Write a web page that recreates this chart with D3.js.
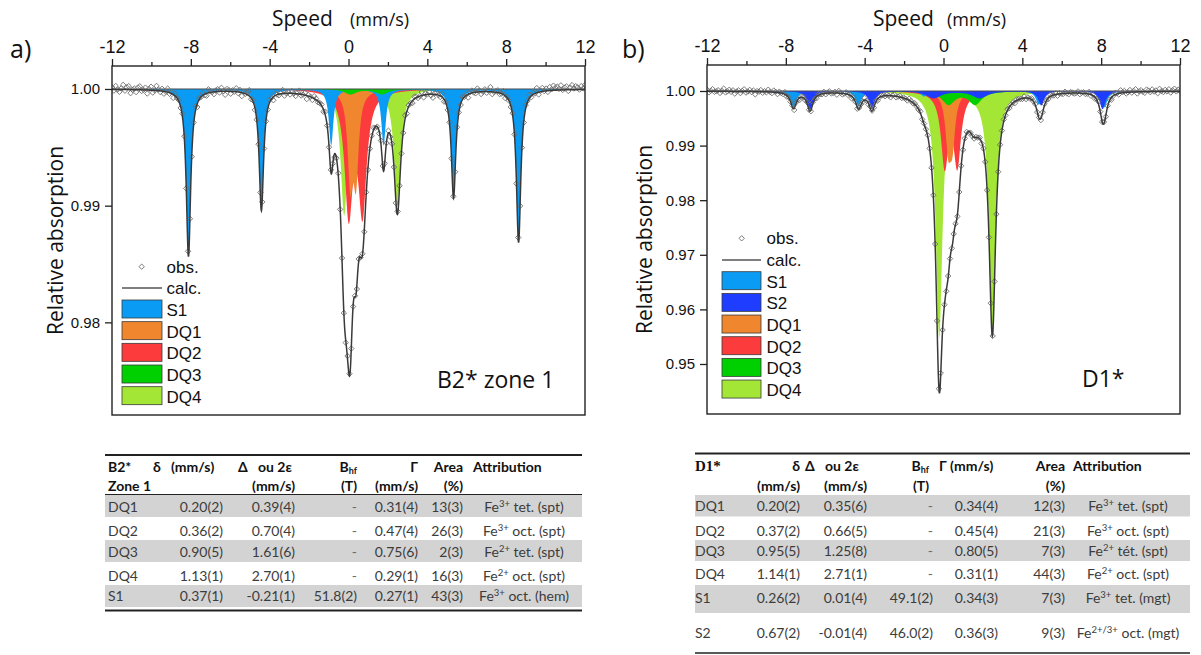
<!DOCTYPE html>
<html>
<head>
<meta charset="utf-8">
<script src="https://cdn.jsdelivr.net/npm/d3@7/dist/d3.min.js"></script>
<style>
html,body{margin:0;padding:0;background:#fff;}
svg{display:block;}
text{white-space:pre;}
</style>
</head>
<body>
<svg id="chart" width="1201" height="655"></svg>
<script>
// ================= DATA =================
const VELOCITY_DOMAIN = [-12, 12];
const X_TICKS_MAJOR = [-12, -8, -4, 0, 4, 8, 12];
const X_TICKS_MINOR = [-10, -6, -2, 2, 6, 10];
const Y_TICKS_A = [0.98, 0.99, 1.00];
const Y_TICKS_B = [0.95, 0.96, 0.97, 0.98, 0.99, 1.00];
const Y_DOMAIN_A = [0.97206, 1.00197];
const Y_DOMAIN_B = [0.94084, 1.00476];

// Panel a) B2* zone 1 : line centres (mm/s), depths (1 - transmission), FWHM (mm/s)
const A_S1_POS   = [-8.12, -4.42, -0.88, 1.78, 5.33, 8.63];
const A_S1_DEPTH = [0.0143, 0.0103, 0.0048, 0.0048, 0.0092, 0.0131];
const A_S1_FWHM  = [0.27, 0.27, 0.27, 0.27, 0.27, 0.27];
const A_DQ1_POS = [0.09, 0.38],  A_DQ1_DEPTH = [0.0075, 0.0072],   A_DQ1_FWHM = [0.32, 0.32];
const A_DQ2_POS = [0.01, 0.71],  A_DQ2_DEPTH = [0.0104, 0.0102],   A_DQ2_FWHM = [0.50, 0.50];
const A_DQ3_POS = [0.095, 1.705],A_DQ3_DEPTH = [0.00045, 0.00045], A_DQ3_FWHM = [0.75, 0.75];
const A_DQ4_POS = [-0.22, 2.48], A_DQ4_DEPTH = [0.0108, 0.0100],   A_DQ4_FWHM = [0.42, 0.40];

// Panel b) D1*
const B_S1_POS   = [-7.61, -4.31, -0.99, 1.51, 4.84, 8.16];
const B_S1_DEPTH = [0.0030, 0.0028, 0.0010, 0.0010, 0.0025, 0.0030];
const B_S1_FWHM  = [0.36, 0.36, 0.36, 0.36, 0.36, 0.36];
const B_S2_POS   = [-6.77, -3.63, -0.50, 1.84, 4.96, 8.07];
const B_S2_DEPTH = [0.0034, 0.0031, 0.0013, 0.0013, 0.0026, 0.0033];
const B_S2_FWHM  = [0.36, 0.36, 0.90, 0.90, 0.36, 0.36];
const B_DQ1_POS = [0.24, 0.45],  B_DQ1_DEPTH = [0.0094, 0.0086], B_DQ1_FWHM = [0.34, 0.34];
const B_DQ2_POS = [0.06, 0.70],  B_DQ2_DEPTH = [0.0133, 0.0131], B_DQ2_FWHM = [0.45, 0.45];
const B_DQ3_POS = [0.25, 1.61],  B_DQ3_DEPTH = [0.0024, 0.0024], B_DQ3_FWHM = [0.80, 0.80];
const B_DQ4_POS = [-0.22, 2.48], B_DQ4_DEPTH = [0.0450, 0.0432], B_DQ4_FWHM = [0.40, 0.40];

// residuals of the observed points from the fit (units of 1e-4), one per channel
const A_RESID = [
 2,-1,3,0,-2,1,4,-1,2,3,-3,0,1,-2,2,3,
 -1,0,2,-3,1,3,-2,0,4,1,-1,2,-2,0,3,-1,
 1,-3,2,0,1,-1,3,2,-2,1,0,-1,2,4,-3,1,
 0,2,-1,-2,3,1,0,-2,1,2,-1,3,0,-3,2,1,
 -2,1,0,3,-1,2,-3,1,0,2,5,-1,1,-2,0,2,
 3,-2,1,0,-1,2,1,-3,2,0,-1,1,3,-2,0,1,
 -1,2,0,-2,1,3,-1,0,2,-3,1,0,-2,2,1,-1,
 0,1,-2,3,0,-1,2,1,-3,0,2,-1,1,0,-2,3,
 2,0,-1,1,-3,2,0,1,-1,3,-2,0,1,2,-1,0,
 -2,3,1,0,-1,2,-2,1,0,-3,2,1,0,-1,3,-2,
 1,0,-2,2,1,-1,0,3,-2,1,0,2,-1,-3,1,2,
 0,-1,3,-2,1,0,2,-1,1,-2,3,0,-1,2,0,1,
 -3,1,2,0,-1,3,1,-2,0,2,-1,1,4,-2,0,1,
 2,-1,0,3,-2,1,0,-1,2,1,-3,2,0,1,-1,3,
 1,3,-1,2,0,4,-2,1,3,0,2,-1,3,1,4,2,
 3,1,4,0,2,3,-1,2,4,1,3,2,0,3,1,4];
const B_RESID = [
 3,-2,1,4,-1,0,2,-3,1,5,-2,0,3,-1,2,-4,
 0,2,-3,1,4,-2,0,3,-1,2,-5,1,0,3,-2,1,
 -1,4,0,-2,3,1,-3,2,0,-1,4,-2,1,0,3,-3,
 2,0,-4,1,2,-1,3,0,-2,4,1,-3,2,0,-1,3,
 -2,1,3,-1,0,2,-3,4,1,-2,0,3,-1,2,-4,1,
 0,-3,2,1,-1,4,0,-2,3,1,-1,2,-3,0,2,1,
 -1,2,0,-3,1,3,-2,0,2,-1,1,0,-2,3,1,-1,
 2,0,-1,3,-2,1,0,2,-1,-3,1,2,0,-2,3,0,
 1,-2,3,0,-1,2,1,-3,0,2,-1,1,3,-2,0,-1,
 -2,1,0,2,-3,1,2,-1,0,3,-2,0,1,-1,2,0,
 3,-1,2,-2,0,1,-3,2,1,0,-1,3,-2,1,0,2,
 0,2,-1,1,-3,0,2,1,-2,3,0,-1,2,-3,1,0,
 -1,3,0,-2,2,1,-1,0,3,-2,1,2,-1,0,4,-2,
 2,-3,1,4,0,-1,3,-2,1,2,-4,0,3,1,-2,5,
 1,3,-2,0,4,-1,2,5,-3,1,3,0,-2,4,2,-1,
 4,0,2,-3,5,1,-1,3,0,4,-2,2,5,0,3,1];

const LEGEND_A = ["S1", "DQ1", "DQ2", "DQ3", "DQ4"];
const LEGEND_B = ["S1", "S2", "DQ1", "DQ2", "DQ3", "DQ4"];
const DRAW_ORDER_A = ["DQ4", "DQ2", "DQ1", "S1", "DQ3"];
const DRAW_ORDER_B = ["DQ4", "DQ2", "DQ1", "DQ3", "S1", "S2"];

// tables ({..} superscript, [..] subscript)
const TABLE_A_HEADER = [["B2*", "Zone 1"], ["δ   (mm/s)", ""], ["Δ   ou 2ε", "(mm/s)"], ["B[hf]", "(T)"], ["Γ", "(mm/s)"], ["Area", "(%)"], ["Attribution", ""]];
const TABLE_A_ROWS = [
  ["DQ1", "0.20(2)", "0.39(4)", "-", "0.31(4)", "13(3)", "Fe{3+} tet. (spt)"],
  ["DQ2", "0.36(2)", "0.70(4)", "-", "0.47(4)", "26(3)", "Fe{3+} oct. (spt)"],
  ["DQ3", "0.90(5)", "1.61(6)", "-", "0.75(6)", "2(3)", "Fe{2+} tet. (spt)"],
  ["DQ4", "1.13(1)", "2.70(1)", "-", "0.29(1)", "16(3)", "Fe{2+} oct. (spt)"],
  ["S1", "0.37(1)", "-0.21(1)", "51.8(2)", "0.27(1)", "43(3)", "Fe{3+} oct. (hem)"]];
const TABLE_B_HEADER = [["D1*", ""], ["δ", "(mm/s)"], ["Δ   ou 2ε", "(mm/s)"], ["B[hf]", "(T)"], ["Γ (mm/s)", ""], ["Area", "(%)"], ["Attribution", ""]];
const TABLE_B_ROWS = [
  ["DQ1", "0.20(2)", "0.35(6)", "-", "0.34(4)", "12(3)", "Fe{3+} tet. (spt)"],
  ["DQ2", "0.37(2)", "0.66(5)", "-", "0.45(4)", "21(3)", "Fe{3+} oct. (spt)"],
  ["DQ3", "0.95(5)", "1.25(8)", "-", "0.80(5)", "7(3)", "Fe{2+} tét. (spt)"],
  ["DQ4", "1.14(1)", "2.71(1)", "-", "0.31(1)", "44(3)", "Fe{2+} oct. (spt)"],
  ["S1", "0.26(2)", "0.01(4)", "49.1(2)", "0.34(3)", "7(3)", "Fe{3+} tet. (mgt)"],
  ["S2", "0.67(2)", "-0.01(4)", "46.0(2)", "0.36(3)", "9(3)", "Fe{2+/3+} oct. (mgt)"]];

// ================= STYLE / LAYOUT =================
const COLORS = {S1: "#0a9cf5", S2: "#1f3dff", DQ1: "#f0862e", DQ2: "#fc3c3c", DQ3: "#00cf00", DQ4: "#a3e636"};
const svg = d3.select("#chart");
const defs = svg.append("defs");
const DIAMOND = "M0,-2.7L2.7,0L0,2.7L-2.7,0Z";

function comp(pos, depth, fwhm) { return {pos, depth, fwhm}; }
function absorb(v, c) {
  let s = 0;
  for (let i = 0; i < c.pos.length; i++) {
    const g = c.fwhm[i] / 2, d = v - c.pos[i];
    s += c.depth[i] * g * g / (d * d + g * g);
  }
  return s;
}

function richText(sel, str, size) {
  const parts = str.split(/(\{[^}]*\}|\[[^\]]*\])/).filter(s => s.length);
  let shift = 0;
  parts.forEach(p => {
    if (p[0] === "{") { sel.append("tspan").attr("dy", -5 - shift).attr("font-size", size * 0.68).text(p.slice(1, -1)); shift = -5; }
    else if (p[0] === "[") { sel.append("tspan").attr("dy", 2 - shift).attr("font-size", size * 0.64).text(p.slice(1, -1)); shift = 2; }
    else { sel.append("tspan").attr("dy", -shift).text(p); shift = 0; }
  });
}

function drawPanel(p) {
  const x = d3.scaleLinear().domain(VELOCITY_DOMAIN).range([p.box.x0, p.box.x1]);
  const y = d3.scaleLinear().domain(p.yDomain).range([p.box.y1, p.box.y0]);
  const names = Object.keys(p.comps);
  const total = v => 1 - d3.sum(names, n => absorb(v, p.comps[n]));
  const fine = d3.range(2401).map(i => VELOCITY_DOMAIN[0] + i * (VELOCITY_DOMAIN[1] - VELOCITY_DOMAIN[0]) / 2400);
  const nCh = p.resid.length;
  const chan = d3.range(nCh).map(i => VELOCITY_DOMAIN[0] + i * (VELOCITY_DOMAIN[1] - VELOCITY_DOMAIN[0]) / (nCh - 1));

  defs.append("clipPath").attr("id", "clip" + p.id).append("rect")
    .attr("x", p.box.x0).attr("y", p.box.y0).attr("width", p.box.x1 - p.box.x0).attr("height", p.box.y1 - p.box.y0);
  const g = svg.append("g");
  const plot = g.append("g").attr("clip-path", `url(#clip${p.id})`);

  p.order.forEach(n => {
    const c = p.comps[n];
    plot.append("path").datum(fine).attr("fill", COLORS[n])
      .attr("d", d3.area().x(v => x(v)).y0(y(1)).y1(v => y(1 - absorb(v, c))));
  });
  plot.append("line").attr("x1", p.box.x0).attr("x2", p.box.x1).attr("y1", y(1)).attr("y2", y(1))
    .attr("stroke", "#4a4a4a").attr("stroke-width", 1.1);
  plot.selectAll("path.obs").data(chan).join("path").attr("class", "obs")
    .attr("transform", (v, i) => `translate(${x(v)},${y(total(v) + p.resid[i] * 1e-4)})`)
    .attr("d", DIAMOND).attr("fill", "none").attr("stroke", "#6e6e6e").attr("stroke-width", 0.9);
  plot.append("path").datum(fine).attr("fill", "none").attr("stroke", "#3a3a3a").attr("stroke-width", 1.5)
    .attr("d", d3.line().x(v => x(v)).y(v => y(total(v))));

  // axes
  const ax = g.append("g").attr("transform", `translate(0,${p.box.y0})`)
    .call(d3.axisTop(x).tickValues(X_TICKS_MAJOR).tickSize(7).tickPadding(6).tickFormat(d => String(d)));
  ax.select(".domain").remove();
  ax.selectAll("text").attr("font-family", "'Liberation Sans', Arial, sans-serif").attr("font-size", 18).attr("fill", "#111");
  ax.selectAll("line").attr("stroke", "#222").attr("stroke-width", 1.3);
  const axm = g.append("g").attr("transform", `translate(0,${p.box.y0})`)
    .call(d3.axisTop(x).tickValues(X_TICKS_MINOR).tickSize(4).tickFormat(""));
  axm.select(".domain").remove();
  axm.selectAll("line").attr("stroke", "#222").attr("stroke-width", 1.3);
  const ay = g.append("g").attr("transform", `translate(${p.box.x0},0)`)
    .call(d3.axisLeft(y).tickValues(p.yTicks).tickSize(7).tickPadding(5).tickFormat(d3.format(".2f")));
  ay.select(".domain").remove();
  ay.selectAll("text").attr("font-family", "'Liberation Sans', Arial, sans-serif").attr("font-size", 15).attr("fill", "#111");
  ay.selectAll("line").attr("stroke", "#222").attr("stroke-width", 1.3);

  g.append("rect").attr("x", p.box.x0).attr("y", p.box.y0).attr("width", p.box.x1 - p.box.x0).attr("height", p.box.y1 - p.box.y0)
    .attr("fill", "none").attr("stroke", "#222").attr("stroke-width", 1.4);

  // titles
  const t = g.append("text").attr("y", 26).attr("font-family", "'Open Sans', sans-serif").attr("fill", "#111");
  t.append("tspan").attr("x", p.speedX[0]).attr("font-size", 21).text("Speed");
  t.append("tspan").attr("x", p.speedX[1]).attr("font-size", 18).text("(mm/s)");
  g.append("text").attr("transform", `translate(${p.yTitleX},${(p.box.y0 + p.box.y1) / 2}) rotate(-90)`)
    .attr("text-anchor", "middle").attr("font-family", "'Open Sans', sans-serif").attr("font-size", 21).attr("fill", "#111")
    .text("Relative absorption");
  g.append("text").attr("x", p.letter[0]).attr("y", p.letter[1]).attr("font-family", "'Open Sans', sans-serif")
    .attr("font-size", 25).attr("fill", "#111").text(p.letterText);
  g.append("text").attr("x", p.sample[0]).attr("y", p.sample[1]).attr("font-family", "'Open Sans', sans-serif")
    .attr("font-size", 23).attr("fill", "#111").text(p.sampleText);

  // legend
  const L = p.legend;
  const lg = g.append("g").attr("font-family", "'Liberation Sans', Arial, sans-serif").attr("font-size", 17).attr("fill", "#111");
  lg.append("path").attr("d", DIAMOND).attr("transform", `translate(${L.obs[0]},${L.obs[1]})`)
    .attr("fill", "none").attr("stroke", "#6e6e6e").attr("stroke-width", 0.9);
  lg.append("text").attr("x", L.textX).attr("y", L.obs[1] + 6).text("obs.");
  lg.append("line").attr("x1", L.sw[0]).attr("x2", L.sw[1]).attr("y1", L.calcY).attr("y2", L.calcY)
    .attr("stroke", "#555").attr("stroke-width", 1.6);
  lg.append("text").attr("x", L.textX).attr("y", L.calcY + 6).text("calc.");
  p.legendNames.forEach((n, i) => {
    const top = L.top0 + i * L.step;
    lg.append("rect").attr("x", L.sw[0]).attr("y", top).attr("width", L.sw[1] - L.sw[0]).attr("height", 18)
      .attr("fill", COLORS[n]).attr("stroke", "#3a3a3a").attr("stroke-width", 0.8);
    lg.append("text").attr("x", L.textX).attr("y", top + 16).text(n);
  });
}

function drawTable(t) {
  const g = svg.append("g").attr("font-family", "Lato, sans-serif").attr("font-size", 14);
  t.bands.forEach(([y0, y1]) => g.append("rect").attr("x", t.x0).attr("y", y0).attr("width", t.x1 - t.x0).attr("height", y1 - y0).attr("fill", "#d3d3d3"));
  t.rules.forEach(([yy, w]) => g.append("line").attr("x1", t.x0).attr("x2", t.x1).attr("y1", yy).attr("y2", yy).attr("stroke", "#222").attr("stroke-width", w));
  t.header.forEach((lines, ci) => lines.forEach((txt, li) => {
    if (!txt) return;
    const pos = t.headPos[ci][li];
    const el = g.append("text").attr("x", pos[0]).attr("y", t.headY[li]).attr("text-anchor", pos[1])
      .attr("font-weight", 700).attr("fill", "#111");
    if (ci === 0 && li === 0 && t.titleFont) el.attr("font-family", t.titleFont).attr("font-size", 15);
    richText(el, txt, 14);
  }));
  t.rows.forEach((row, ri) => row.forEach((cell, ci) => {
    const el = g.append("text").attr("x", t.colX[ci]).attr("y", t.rowY[ri]).attr("text-anchor", t.colAnchor[ci])
      .attr("fill", cell === "-" ? "#6a6a6a" : "#3c3c3c");
    richText(el, cell, 14);
  }));
}

// ================= BUILD =================
drawPanel({
  id: "A", box: {x0: 112, x1: 585, y0: 66, y1: 415}, yDomain: Y_DOMAIN_A, yTicks: Y_TICKS_A,
  comps: {
    S1: comp(A_S1_POS, A_S1_DEPTH, A_S1_FWHM), DQ1: comp(A_DQ1_POS, A_DQ1_DEPTH, A_DQ1_FWHM),
    DQ2: comp(A_DQ2_POS, A_DQ2_DEPTH, A_DQ2_FWHM), DQ3: comp(A_DQ3_POS, A_DQ3_DEPTH, A_DQ3_FWHM),
    DQ4: comp(A_DQ4_POS, A_DQ4_DEPTH, A_DQ4_FWHM)},
  order: DRAW_ORDER_A, resid: A_RESID, legendNames: LEGEND_A,
  speedX: [272, 350], yTitleX: 63, letter: [10, 58], letterText: "a)", sample: [437, 388], sampleText: "B2* zone 1",
  legend: {obs: [141.7, 266.7], textX: 166.5, calcY: 288, sw: [122, 162], top0: 300, step: 21.67}
});
drawPanel({
  id: "B", box: {x0: 707, x1: 1180, y0: 65, y1: 414}, yDomain: Y_DOMAIN_B, yTicks: Y_TICKS_B,
  comps: {
    S1: comp(B_S1_POS, B_S1_DEPTH, B_S1_FWHM), S2: comp(B_S2_POS, B_S2_DEPTH, B_S2_FWHM),
    DQ1: comp(B_DQ1_POS, B_DQ1_DEPTH, B_DQ1_FWHM), DQ2: comp(B_DQ2_POS, B_DQ2_DEPTH, B_DQ2_FWHM),
    DQ3: comp(B_DQ3_POS, B_DQ3_DEPTH, B_DQ3_FWHM), DQ4: comp(B_DQ4_POS, B_DQ4_DEPTH, B_DQ4_FWHM)},
  order: DRAW_ORDER_B, resid: B_RESID, legendNames: LEGEND_B,
  speedX: [873, 947], yTitleX: 652, letter: [622, 58], letterText: "b)", sample: [1082, 387], sampleText: "D1*",
  legend: {obs: [741.7, 238.3], textX: 766.5, calcY: 260, sw: [722, 761], top0: 271.7, step: 21.67}
});

drawTable({
  x0: 105, x1: 582, header: TABLE_A_HEADER, rows: TABLE_A_ROWS,
  headY: [472, 490.5],
  headPos: [[[108, "start"], [108, "start"]], [[153, "start"]], [[238, "start"], [295, "end"]], [[357, "end"], [357, "end"]],
            [[418, "end"], [418, "end"]], [[463, "end"], [463, "end"]], [[473, "start"]]],
  colX: [108, 223, 295, 357, 418, 463, 524], colAnchor: ["start", "end", "end", "end", "end", "end", "middle"],
  rowY: [511.5, 535.5, 556.5, 580.5, 601],
  bands: [[495, 517], [540, 562], [585, 607]],
  rules: [[455, 2], [494.5, 1], [610.5, 2]]
});
drawTable({
  x0: 695, x1: 1190, header: TABLE_B_HEADER, rows: TABLE_B_ROWS, titleFont: "'Liberation Serif', serif",
  headY: [471, 490.5],
  headPos: [[[695, "start"]], [[800, "end"], [800, "end"]], [[805, "start"], [867, "end"]], [[929, "end"], [929, "end"]],
            [[939, "start"]], [[1065, "end"], [1065, "end"]], [[1073, "start"]]],
  colX: [695, 800, 867, 933, 998, 1065, 1128], colAnchor: ["start", "end", "end", "end", "end", "end", "middle"],
  rowY: [511, 536, 556, 578.5, 603, 638],
  bands: [[495, 516.5], [540, 561], [585, 613]],
  rules: [[453.5, 2], [653, 1.5]]
});
</script>
</body>
</html>
